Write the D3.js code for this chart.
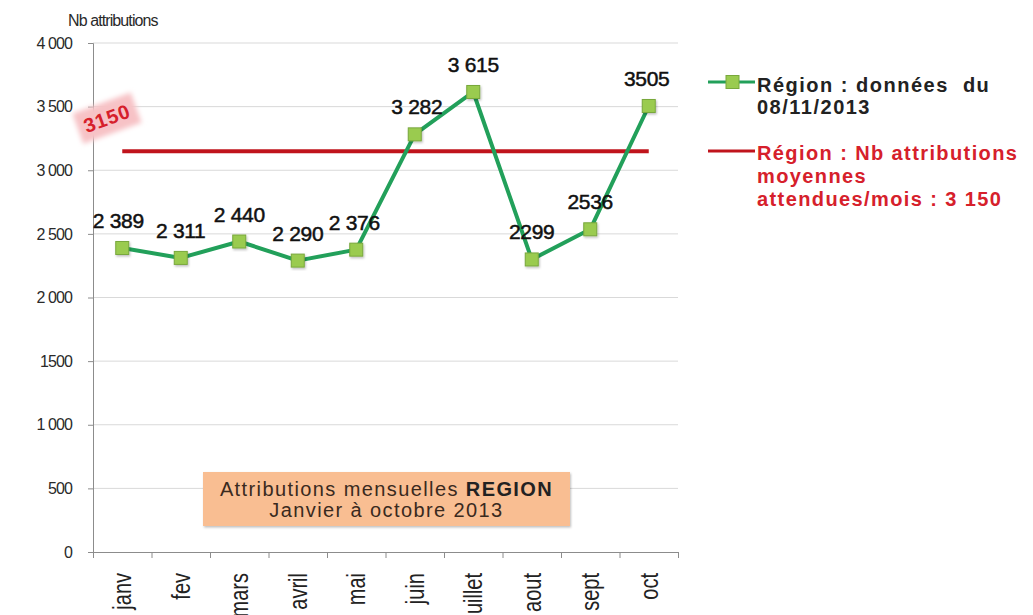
<!DOCTYPE html>
<html>
<head>
<meta charset="utf-8">
<script src="https://cdn.jsdelivr.net/npm/d3@7"></script>
<style>
  body { margin: 0; background: #fff; }
  svg { display: block; font-family: "Liberation Sans", Arial, sans-serif; }
</style>
</head>
<body>
<div id="chart"></div>
<script>
/**
 * DATA
 * */
const months = ["janv", "fev", "mars", "avril", "mai", "juin", "juillet", "aout", "sept", "oct"];
const attributions = [2389, 2311, 2440, 2290, 2376, 3282, 3615, 2299, 2536, 3505];
const valueLabels = ["2 389", "2 311", "2 440", "2 290", "2 376", "3 282", "3 615", "2299", "2536", "3505"];
const labelShiftX = [-4, 0, 0, 0, -2, 2, 0, 0, 0, -2];
const moyenneAttendue = 3150;
const yTicks = [0, 500, 1000, 1500, 2000, 2500, 3000, 3500, 4000];
const yTickLabels = ["0", "500", "1 000", "1500", "2 000", "2 500", "3 000", "3 500", "4 000"];
const legendRegion = ["Région : données  du", "08/11/2013"];
const legendMoyenne = ["Région : Nb attributions", "moyennes", "attendues/mois : 3 150"];

/**
 * CONSTANTS
 * */
const width = 1033, height = 615;
const margin = { top: 43, bottom: 63, left: 93, right: 355 };
const green = "#22a05a", red = "#c0141c";

const svg = d3.select("#chart")
  .append("svg")
  .attr("width", width)
  .attr("height", height);

const defs = svg.append("defs");
const shadow = defs.append("filter").attr("id", "shadow")
  .attr("x", "-30%").attr("y", "-30%").attr("width", "160%").attr("height", "160%");
shadow.append("feDropShadow")
  .attr("dx", 1).attr("dy", 1.5).attr("stdDeviation", 1.2)
  .attr("flood-color", "#000").attr("flood-opacity", 0.25);
const soft = defs.append("filter").attr("id", "soft")
  .attr("x", "-30%").attr("y", "-40%").attr("width", "160%").attr("height", "180%");
soft.append("feGaussianBlur").attr("stdDeviation", 2.5);

const xScale = d3.scaleBand()
  .domain(months)
  .range([margin.left, width - margin.right]);

const yScale = d3.scaleLinear()
  .domain([0, 4000])
  .range([height - margin.bottom, margin.top]);

// gridlines
svg.append("g")
  .selectAll("line")
  .data(yTicks.filter(d => d > 0))
  .join("line")
  .attr("x1", margin.left)
  .attr("x2", width - margin.right)
  .attr("y1", d => yScale(d))
  .attr("y2", d => yScale(d))
  .attr("stroke", "#d9d9d9")
  .attr("stroke-width", 1);

// y axis
const yAxis = d3.axisLeft(yScale)
  .tickValues(yTicks)
  .tickSize(5)
  .tickPadding(16)
  .tickFormat((d, i) => yTickLabels[i]);

svg.append("g")
  .attr("class", "y-axis")
  .attr("transform", `translate(${margin.left},0)`)
  .call(yAxis)
  .call(g => g.selectAll("path, line").attr("stroke", "#8c8c8c"))
  .call(g => g.selectAll(".tick text")
    .attr("fill", "#2a2a2a")
    .style("font-size", "16px")
    .style("letter-spacing", "-0.9px")
    .style("font-family", "'Liberation Sans', Arial, sans-serif"));

svg.append("text")
  .attr("x", 68)
  .attr("y", 26)
  .attr("fill", "#2a2a2a")
  .style("font-size", "16px")
  .style("letter-spacing", "-0.9px")
  .text("Nb attributions");

// x axis : boundary ticks between months
const boundaries = d3.scaleLinear()
  .domain([0, months.length])
  .range(xScale.range());

svg.append("g")
  .attr("class", "x-axis")
  .attr("transform", `translate(0,${yScale(0)})`)
  .call(d3.axisBottom(boundaries).ticks(months.length).tickSize(6).tickSizeOuter(6).tickFormat(""))
  .call(g => g.selectAll("path, line").attr("stroke", "#8c8c8c"));

svg.append("g")
  .selectAll("text")
  .data(months)
  .join("text")
  .attr("transform", d => `translate(${xScale(d) + xScale.bandwidth() / 2},${yScale(0) + 21}) rotate(-90) scale(1,1.25)`)
  .attr("text-anchor", "end")
  .attr("dy", "0.35em")
  .attr("fill", "#222")
  .style("font-size", "20px")
  .text(d => d);

// orange caption box
const caption = svg.append("g");
caption.append("rect")
  .attr("x", 203).attr("y", 472)
  .attr("width", 367).attr("height", 54)
  .attr("fill", "#f9be92")
  .attr("filter", "url(#shadow)");
const cap1 = caption.append("text")
  .attr("x", 386.5).attr("y", 496)
  .attr("text-anchor", "middle")
  .attr("fill", "#3a2a1e")
  .style("font-size", "20px")
  .style("letter-spacing", "1.4px");
cap1.append("tspan").text("Attributions mensuelles ");
cap1.append("tspan").attr("font-weight", "bold").attr("fill", "#222").text("REGION");
caption.append("text")
  .attr("x", 386.5).attr("y", 517)
  .attr("text-anchor", "middle")
  .attr("fill", "#3a2a1e")
  .style("font-size", "20px")
  .style("letter-spacing", "1.4px")
  .text("Janvier à octobre 2013");

// average line
svg.append("line")
  .attr("x1", xScale(months[0]) + xScale.bandwidth() / 2)
  .attr("x2", xScale(months[months.length - 1]) + xScale.bandwidth() / 2)
  .attr("y1", yScale(moyenneAttendue))
  .attr("y2", yScale(moyenneAttendue))
  .attr("stroke", red)
  .attr("stroke-width", 4);

// "3150" stamp
const stamp = svg.append("g")
  .attr("transform", `translate(107,${yScale(moyenneAttendue) - 33}) rotate(-20)`);
stamp.append("rect")
  .attr("x", -31).attr("y", -16)
  .attr("width", 62).attr("height", 32)
  .attr("fill", "#f7c2c6")
  .attr("filter", "url(#soft)");
stamp.append("text")
  .attr("text-anchor", "middle")
  .attr("dy", "0.36em")
  .attr("fill", "#d6202b")
  .attr("font-weight", "bold")
  .style("font-size", "20px")
  .style("letter-spacing", "1px")
  .text(moyenneAttendue);

// series line
const points = months.map((m, i) => ({ month: m, value: attributions[i], label: valueLabels[i], shift: labelShiftX[i] }));

const lineFunc = d3.line()
  .x(d => xScale(d.month) + xScale.bandwidth() / 2)
  .y(d => yScale(d.value));

svg.append("path")
  .datum(points)
  .attr("d", lineFunc)
  .attr("fill", "none")
  .attr("stroke", green)
  .attr("stroke-width", 4)
  .attr("stroke-linejoin", "round");

svg.append("g")
  .selectAll("rect")
  .data(points)
  .join("rect")
  .attr("x", d => xScale(d.month) + xScale.bandwidth() / 2 - 6.5)
  .attr("y", d => yScale(d.value) - 6.5)
  .attr("width", 13)
  .attr("height", 13)
  .attr("fill", "#9acb4f")
  .attr("stroke", "#79a83c")
  .attr("stroke-width", 1)
  .attr("filter", "url(#shadow)");

svg.append("g")
  .selectAll("text")
  .data(points)
  .join("text")
  .attr("x", d => xScale(d.month) + xScale.bandwidth() / 2 + d.shift)
  .attr("y", d => yScale(d.value) - 20)
  .attr("text-anchor", "middle")
  .attr("fill", "#111")
  .attr("stroke", "#111")
  .attr("stroke-width", 0.5)
  .style("font-size", "21px")
  .style("letter-spacing", "-0.3px")
  .text(d => d.label);

// legend
const legend = svg.append("g");
legend.append("line")
  .attr("x1", 708).attr("x2", 755)
  .attr("y1", 82).attr("y2", 82)
  .attr("stroke", green).attr("stroke-width", 3);
legend.append("rect")
  .attr("x", 726).attr("y", 75.5)
  .attr("width", 13).attr("height", 13)
  .attr("fill", "#9acb4f").attr("stroke", "#79a83c");
legend.append("g")
  .selectAll("text")
  .data(legendRegion)
  .join("text")
  .attr("x", 757)
  .attr("y", (d, i) => 92 + i * 21.5)
  .attr("fill", "#222")
  .attr("font-weight", "bold")
  .attr("xml:space", "preserve")
  .style("white-space", "pre")
  .style("font-size", "20px")
  .style("letter-spacing", "1.5px")
  .text(d => d);

legend.append("line")
  .attr("x1", 708).attr("x2", 755)
  .attr("y1", 151).attr("y2", 151)
  .attr("stroke", red).attr("stroke-width", 3);
legend.append("g")
  .selectAll("text")
  .data(legendMoyenne)
  .join("text")
  .attr("x", 757)
  .attr("y", (d, i) => 160 + i * 23)
  .attr("fill", "#d6202b")
  .attr("font-weight", "bold")
  .style("font-size", "20px")
  .style("letter-spacing", "1.4px")
  .text(d => d);
</script>
</body>
</html>
